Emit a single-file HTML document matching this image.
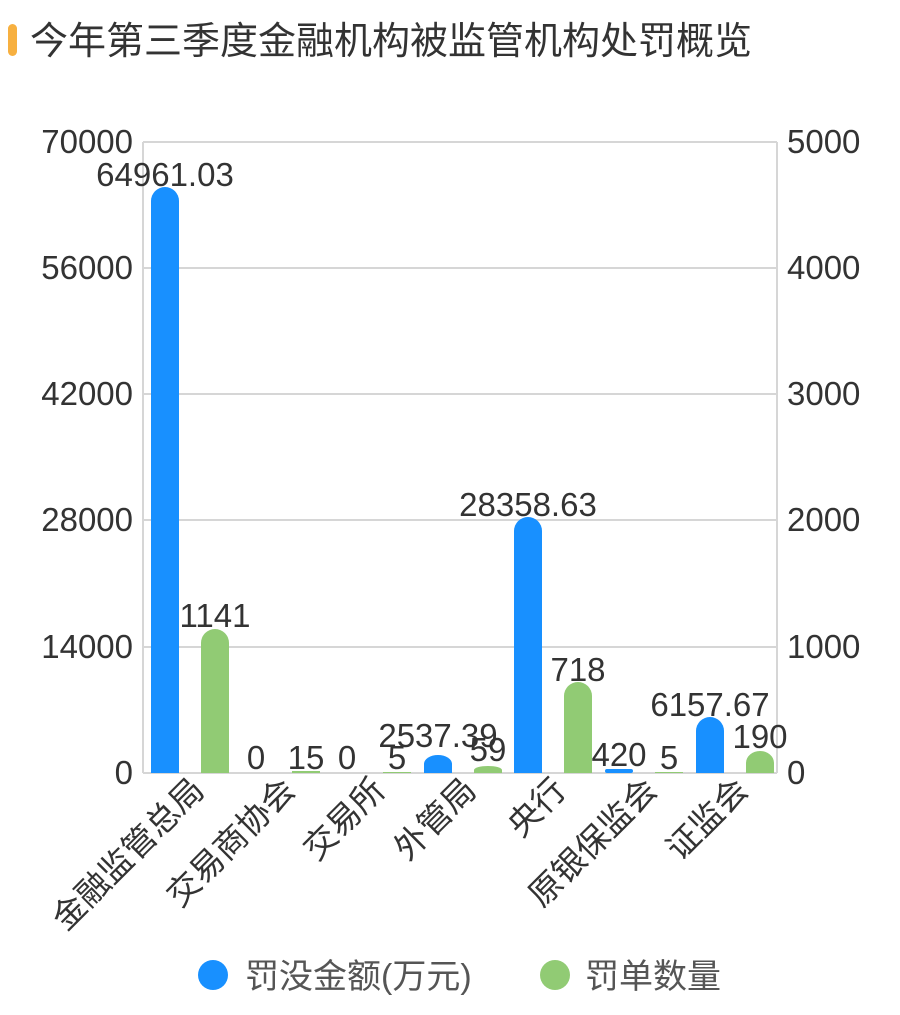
<!DOCTYPE html>
<html><head><meta charset="utf-8"><style>
body{margin:0;background:#fff;}
svg text{font-family:"Liberation Sans","Noto Sans CJK SC",sans-serif;}
</style></head><body>
<svg width="900" height="1010" xmlns="http://www.w3.org/2000/svg">
<rect x="0" y="0" width="900" height="1010" fill="#fff"/>
<rect x="8" y="24" width="9" height="32" rx="4.5" fill="#f7b040"/>
<text x="30" y="54" font-size="38" fill="#333">今年第三季度金融机构被监管机构处罚概览</text>
<g stroke="#d6d6d6" stroke-width="2">
<line x1="143" y1="142" x2="777" y2="142"/>
<line x1="143" y1="268" x2="777" y2="268"/>
<line x1="143" y1="394" x2="777" y2="394"/>
<line x1="143" y1="520" x2="777" y2="520"/>
<line x1="143" y1="647" x2="777" y2="647"/>
<line x1="143" y1="773" x2="777" y2="773"/>
<line x1="143" y1="142" x2="143" y2="773"/>
<line x1="777" y1="142" x2="777" y2="773"/>
</g>
<g font-size="33" fill="#333" text-anchor="end">
<text x="133" y="153">70000</text><text x="133" y="279">56000</text><text x="133" y="405">42000</text>
<text x="133" y="531">28000</text><text x="133" y="658">14000</text><text x="133" y="784">0</text>
</g>
<g font-size="33" fill="#333" text-anchor="start">
<text x="787" y="153">5000</text><text x="787" y="279">4000</text><text x="787" y="405">3000</text>
<text x="787" y="531">2000</text><text x="787" y="658">1000</text><text x="787" y="784">0</text>
</g>
<g fill="#1890ff">
<path d="M151 773 V201 A14 14 0 0 1 179 201 V773Z"/>
<path d="M424 773 V764 A14 9 0 0 1 452 764 V773Z"/>
<path d="M514 773 V531 A14 14 0 0 1 542 531 V773Z"/>
<rect x="605" y="769" width="28" height="4" rx="2"/>
<path d="M696 773 V731 A14 14 0 0 1 724 731 V773Z"/>
</g>
<g fill="#91cb74">
<path d="M201 773 V643 A14 14 0 0 1 229 643 V773Z"/>
<rect x="292" y="771" width="28" height="2"/>
<rect x="383" y="772" width="28" height="1"/>
<path d="M474 773 V770 A14 4 0 0 1 502 770 V773Z"/>
<path d="M564 773 V696 A14 14 0 0 1 592 696 V773Z"/>
<rect x="655" y="772" width="28" height="1"/>
<path d="M746 773 V763 A14 12 0 0 1 774 763 V773Z"/>
</g>
<g font-size="33" fill="#333" text-anchor="middle">
<text x="165" y="186">64961.03</text>
<text x="215" y="627">1141</text>
<text x="256" y="769">0</text>
<text x="306" y="769">15</text>
<text x="347" y="769">0</text>
<text x="397" y="769">5</text>
<text x="438" y="747">2537.39</text>
<text x="488" y="761">59</text>
<text x="528" y="516">28358.63</text>
<text x="578" y="681">718</text>
<text x="619" y="766">420</text>
<text x="669" y="769">5</text>
<text x="710" y="716">6157.67</text>
<text x="760" y="748">190</text>
</g>
<g font-size="33" fill="#333" text-anchor="end">
<text transform="translate(206,792) rotate(-45)">金融监管总局</text>
<text transform="translate(297,792) rotate(-45)">交易商协会</text>
<text transform="translate(387,792) rotate(-45)">交易所</text>
<text transform="translate(478,792) rotate(-45)">外管局</text>
<text transform="translate(568,792) rotate(-45)">央行</text>
<text transform="translate(659,792) rotate(-45)">原银保监会</text>
<text transform="translate(750,792) rotate(-45)">证监会</text>
</g>
<circle cx="213" cy="975" r="15" fill="#1890ff"/>
<text x="245" y="988" font-size="34" fill="#555">罚没金额(万元)</text>
<circle cx="555" cy="975" r="15" fill="#91cb74"/>
<text x="585" y="988" font-size="34" fill="#555">罚单数量</text>
</svg>
</body></html>
